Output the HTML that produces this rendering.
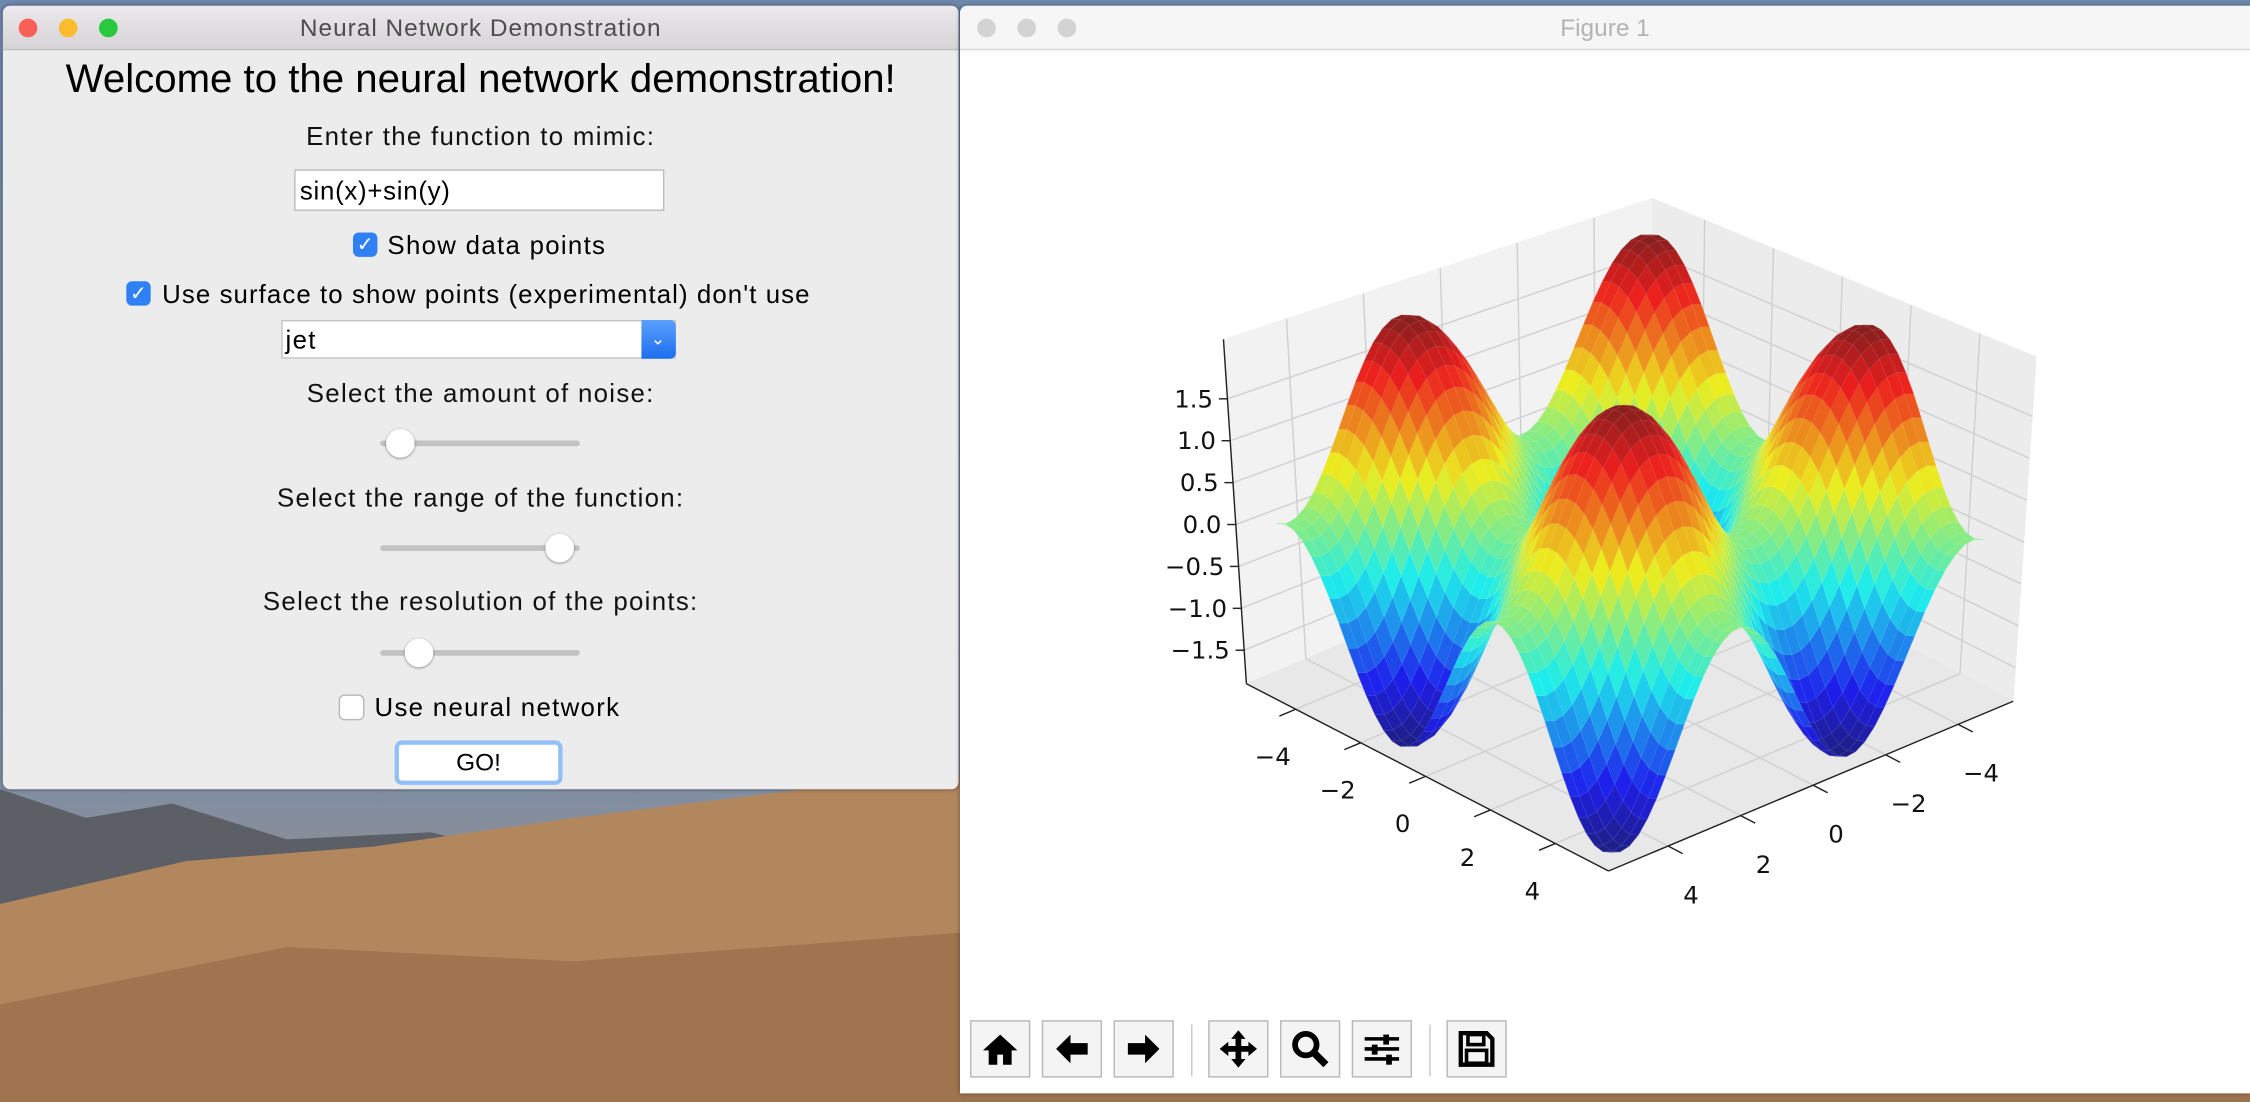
<!DOCTYPE html>
<html><head><meta charset="utf-8">
<style>
html,body{margin:0;padding:0;width:2250px;height:1102px;overflow:hidden;background:#a07a55;}
#stage{position:absolute;left:0;top:0;width:1568px;height:768px;transform:scale(1.43495,1.4349);transform-origin:0 0;font-family:"Liberation Sans","DejaVu Sans",sans-serif;}
.abs{position:absolute;}
.lbl{position:absolute;left:0;width:666px;text-align:center;font-size:18px;letter-spacing:0.9px;color:#111;}
.chk{position:absolute;width:17px;height:17px;border-radius:4px;}
.chk.on{background:#2f80f5;color:#fff;font-size:14px;line-height:17px;text-align:center;font-weight:bold;}
.chk.off{background:#fff;border:1px solid #b8b8b8;width:16px;height:16px;}
.track{position:absolute;width:139px;height:4px;border-radius:2px;background:#c2c2c2;}
.knob{position:absolute;width:20px;height:20px;border-radius:50%;background:#fff;box-shadow:0 0.5px 2px rgba(0,0,0,0.45);}
.tb{position:absolute;top:711px;width:42px;height:40px;background:#f4f4f4;border:1px solid #b9b9b9;box-sizing:border-box;}
.tb svg{position:absolute;left:5px;top:4px;}
.sep{position:absolute;top:714px;width:1px;height:36px;background:#c8c8c8;}
.txt{font-size:18px;letter-spacing:0.9px;}
</style></head><body>
<div id="stage">
  <div class="abs" style="left:0;top:0;width:1568px;height:768px;background:linear-gradient(180deg,#6e88ad 0,#7f8fa5 540px,#8a8d95 600px,#a27a55 640px,#b4865b 700px,#9c7250 768px);"></div>
  <svg class="abs" style="left:0;top:540px" width="670" height="228">
    <polygon points="0,10 60,30 120,20 200,45 300,40 420,70 560,60 670,80 670,228 0,228" fill="#5d5f66"/>
    <polygon points="0,90 130,60 260,50 400,30 560,10 670,0 670,228 0,228" fill="#b3875e"/>
    <polygon points="0,160 200,120 400,130 670,110 670,228 0,228" fill="#9f744f"/>
  </svg>

  <div class="abs" style="left:2px;top:4px;width:666px;height:546px;background:#ececec;border-radius:5px;overflow:hidden;box-shadow:0 0 3px rgba(0,0,0,0.4);">
    <div class="abs" style="left:0;top:0;width:666px;height:30px;background:linear-gradient(#ebe9eb,#d6d4d6);border-bottom:1px solid #bdbdbd;"></div>
    <div class="abs" style="left:11px;top:9px;width:13px;height:13px;border-radius:50%;background:#fc5f57;"></div>
    <div class="abs" style="left:39px;top:9px;width:13px;height:13px;border-radius:50%;background:#fdbc2e;"></div>
    <div class="abs" style="left:67px;top:9px;width:13px;height:13px;border-radius:50%;background:#28c83f;"></div>
    <div class="abs" style="left:0;top:6px;width:666px;text-align:center;font-size:17px;letter-spacing:0.7px;color:#4d4d4d;">Neural Network Demonstration</div>

    <div class="lbl" style="top:35px;font-size:28px;letter-spacing:0;color:#000;">Welcome to the neural network demonstration!</div>
    <div class="lbl" style="top:81px;">Enter the function to mimic:</div>
    <div class="abs txt" style="left:203px;top:114px;width:258px;height:29px;background:#fff;border:1px solid #bcbcbc;line-height:28px;padding-left:3px;box-sizing:border-box;letter-spacing:0.5px;">sin(x)+sin(y)</div>
    <div class="chk on" style="left:244px;top:158px;">✓</div>
    <div class="abs txt" style="left:268px;top:157px;">Show data points</div>
    <div class="chk on" style="left:86px;top:192px;">✓</div>
    <div class="abs txt" style="left:111px;top:191px;letter-spacing:0.75px;">Use surface to show points (experimental) don't use</div>
    <div class="abs txt" style="left:194px;top:219px;width:275px;height:27px;background:#fff;border:1px solid #c4c4c4;box-sizing:border-box;line-height:26px;padding-left:2px;">jet
      <div class="abs" style="right:-1px;top:-1px;width:24px;height:27px;background:linear-gradient(#5aa0fb,#1d6ef0);border-radius:0 4px 4px 0;color:#fff;font-size:12px;text-align:center;line-height:27px;">⌄</div>
    </div>
    <div class="lbl" style="top:260px;">Select the amount of noise:</div>
    <div class="track" style="left:263px;top:303px;"></div>
    <div class="knob" style="left:267px;top:295px;"></div>
    <div class="lbl" style="top:333px;">Select the range of the function:</div>
    <div class="track" style="left:263px;top:376px;"></div>
    <div class="knob" style="left:378px;top:368px;"></div>
    <div class="lbl" style="top:405px;">Select the resolution of the points:</div>
    <div class="track" style="left:263px;top:449px;"></div>
    <div class="knob" style="left:280px;top:441px;"></div>
    <div class="chk off" style="left:234px;top:480px;"></div>
    <div class="abs txt" style="left:259px;top:479px;">Use neural network</div>
    <div class="abs" style="left:273px;top:512px;width:117px;height:31px;border:3px solid #92bff7;border-radius:5px;box-sizing:border-box;background:#fff;text-align:center;font-size:17px;line-height:25px;">GO!</div>
  </div>

  <div class="abs" style="left:669px;top:4px;width:899px;height:758px;background:#fff;border-radius:5px 0 0 0;overflow:hidden;box-shadow:0 0 3px rgba(0,0,0,0.35);">
    <div class="abs" style="left:0;top:0;width:899px;height:30px;background:#f6f6f6;border-bottom:1px solid #d6d6d6;"></div>
    <div class="abs" style="left:12px;top:9px;width:13px;height:13px;border-radius:50%;background:#d3d3d3;"></div>
    <div class="abs" style="left:40px;top:9px;width:13px;height:13px;border-radius:50%;background:#d3d3d3;"></div>
    <div class="abs" style="left:68px;top:9px;width:13px;height:13px;border-radius:50%;background:#d3d3d3;"></div>
    <div class="abs" style="left:0;top:6px;width:899px;text-align:center;font-size:17px;color:#b3b3b3;">Figure 1</div>
  </div>

  <svg id="plot" class="abs" style="left:0;top:0" width="1568" height="768"></svg>

  <div class="tb" style="left:676px;"><svg width="30" height="30" viewBox="0 0 30 30"><path d="M15 5 L3 16 H7 V26 H13 V19 H17 V26 H23 V16 H27 Z" fill="#000"/></svg></div>
  <div class="tb" style="left:726px;"><svg width="30" height="30" viewBox="0 0 30 30"><path d="M4 15 L14 5 V11 H26 V19 H14 V25 Z" fill="#000"/></svg></div>
  <div class="tb" style="left:776px;"><svg width="30" height="30" viewBox="0 0 30 30"><path d="M26 15 L16 5 V11 H4 V19 H16 V25 Z" fill="#000"/></svg></div>
  <div class="sep" style="left:830px;"></div>
  <div class="tb" style="left:842px;"><svg width="30" height="30" viewBox="0 0 30 30"><path d="M15 2 L20 8 H17 V13 H22 V10 L28 15 L22 20 V17 H17 V22 H20 L15 28 L10 22 H13 V17 H8 V20 L2 15 L8 10 V13 H13 V8 H10 Z" fill="#000"/></svg></div>
  <div class="tb" style="left:892px;"><svg width="30" height="30" viewBox="0 0 30 30"><circle cx="12" cy="12" r="7.5" fill="none" stroke="#000" stroke-width="4"/><path d="M17 17 L26 26" stroke="#000" stroke-width="5"/></svg></div>
  <div class="tb" style="left:942px;"><svg width="30" height="30" viewBox="0 0 30 30"><path d="M3 8 H27 M3 15 H27 M3 22 H27" stroke="#000" stroke-width="2.5"/><rect x="16" y="5" width="4" height="7" fill="#000"/><rect x="8" y="12" width="4" height="7" fill="#000"/><rect x="18" y="19" width="4" height="7" fill="#000"/></svg></div>
  <div class="sep" style="left:996px;"></div>
  <div class="tb" style="left:1008px;"><svg width="30" height="30" viewBox="0 0 30 30"><path d="M4 4 H22 L26 8 V26 H4 Z" fill="none" stroke="#000" stroke-width="3"/><rect x="9" y="5" width="11" height="7" fill="none" stroke="#000" stroke-width="2.5"/><rect x="8" y="16" width="14" height="9" fill="none" stroke="#000" stroke-width="2.5"/></svg></div>
</div>

<script>
// ---- chart data ----
const gridValues = [-5,-4.75,-4.5,-4.25,-4,-3.75,-3.5,-3.25,-3,-2.75,-2.5,-2.25,-2,-1.75,-1.5,-1.25,-1,-0.75,-0.5,-0.25,0,0.25,0.5,0.75,1,1.25,1.5,1.75,2,2.25,2.5,2.75,3,3.25,3.5,3.75,4,4.25,4.5,4.75,5];
const xTickValues = [-4,-2,0,2,4];
const yTickValues = [-4,-2,0,2,4];
const zTickValues = [-1.5,-1.0,-0.5,0.0,0.5,1.0,1.5];
const zTickLabels = ["\u22121.5","\u22121.0","\u22120.5","0.0","0.5","1.0","1.5"];
const xTickLabels = ["\u22124","\u22122","0","2","4"];
const yTickLabels = ["\u22124","\u22122","0","2","4"];
function surfaceZ(x,y){ return Math.sin(x)+Math.sin(y); }

// ---- projection ----
const XMIN=-5.52,XMAX=5.64,YMIN=-5.52,YMAX=5.64,ZMIN=-1.90,ZMAX=2.21;
const F=[1121,607],L=[868.6,476.5],R=[1403,488.7],CX=1135;
function P(x,y,z){
  const a=(XMAX-x)/(XMAX-XMIN), b=(YMAX-y)/(YMAX-YMIN), c=(z-ZMIN)/(ZMAX-ZMIN);
  const bx=F[0]+a*(L[0]-F[0])+b*(R[0]-F[0]);
  const by=F[1]+a*(L[1]-F[1])+b*(R[1]-F[1]);
  const h=260-20*(a+b);
  return [bx+(bx-CX)*0.06*c, by-c*h];
}
const svg=document.getElementById('plot');
const NS='http://www.w3.org/2000/svg';
function poly(pts,fill,stroke,sw,name){
  const p=document.createElementNS(NS,'polygon');
  p.setAttribute('points',pts.map(q=>q[0].toFixed(1)+','+q[1].toFixed(1)).join(' '));
  p.setAttribute('fill',fill); p.setAttribute('stroke',stroke); p.setAttribute('stroke-width',sw);
  p.setAttribute('stroke-linejoin','round');
  
  
  svg.appendChild(p); return p;
}
function line(a,b,col,sw,name){
  const l=document.createElementNS(NS,'line');
  l.setAttribute('x1',a[0]);l.setAttribute('y1',a[1]);l.setAttribute('x2',b[0]);l.setAttribute('y2',b[1]);
  l.setAttribute('stroke',col);l.setAttribute('stroke-width',sw);
  
  
  svg.appendChild(l);
}
function text(pt,s,anchor,name){
  const t=document.createElementNS(NS,'text');
  t.setAttribute('x',pt[0]);t.setAttribute('y',pt[1]);t.setAttribute('text-anchor',anchor);
  t.setAttribute('dominant-baseline','central');t.setAttribute('font-size','17');
  t.setAttribute('font-family','DejaVu Sans, sans-serif');t.setAttribute('fill','#111');
  t.textContent=s;
  
  
  svg.appendChild(t);
}
poly([P(XMIN,YMIN,ZMIN),P(XMIN,YMAX,ZMIN),P(XMIN,YMAX,ZMAX),P(XMIN,YMIN,ZMAX)],'#f2f2f2','#f2f2f2',0.5,'left-back-pane');
poly([P(XMIN,YMIN,ZMIN),P(XMAX,YMIN,ZMIN),P(XMAX,YMIN,ZMAX),P(XMIN,YMIN,ZMAX)],'#ececec','#ececec',0.5,'right-back-pane');
poly([P(XMIN,YMIN,ZMIN),P(XMAX,YMIN,ZMIN),P(XMAX,YMAX,ZMIN),P(XMIN,YMAX,ZMIN)],'#e8e8e8','#e8e8e8',0.5,'floor-pane');
xTickValues.forEach(v=>{ line(P(v,YMAX,ZMIN),P(v,YMIN,ZMIN),'#d0d0d0',1,'x-gridline'); line(P(v,YMIN,ZMIN),P(v,YMIN,ZMAX),'#d0d0d0',1,'x-gridline'); });
yTickValues.forEach(v=>{ line(P(XMAX,v,ZMIN),P(XMIN,v,ZMIN),'#d0d0d0',1,'y-gridline'); line(P(XMIN,v,ZMIN),P(XMIN,v,ZMAX),'#d0d0d0',1,'y-gridline'); });
zTickValues.forEach(v=>{ line(P(XMIN,YMAX,v),P(XMIN,YMIN,v),'#d0d0d0',1,'z-gridline'); line(P(XMIN,YMIN,v),P(XMAX,YMIN,v),'#d0d0d0',1,'z-gridline'); });
line(P(XMIN,YMAX,ZMIN),P(XMAX,YMAX,ZMIN),'#222',1,'x-axis-line');
line(P(XMAX,YMIN,ZMIN),P(XMAX,YMAX,ZMIN),'#222',1,'y-axis-line');
line(P(XMIN,YMAX,ZMIN),P(XMIN,YMAX,ZMAX),'#222',1,'z-axis-line');
xTickValues.forEach((v,i)=>{ const p=P(v,YMAX,ZMIN); line(p,P(v,YMAX+0.45,ZMIN),'#222',1,'x-tick'); text([p[0]-16,p[1]+33],xTickLabels[i],'middle','x-tick-label'); });
yTickValues.forEach((v,i)=>{ const p=P(XMAX,v,ZMIN); line(p,P(XMAX+0.45,v,ZMIN),'#222',1,'y-tick'); text([p[0]+16,p[1]+34],yTickLabels[i],'middle','y-tick-label'); });
zTickValues.forEach((v,i)=>{ const p=P(XMIN,YMAX,v); line(p,[p[0]-6,p[1]],'#222',1,'z-tick'); text([p[0]-10,p[1]],zTickLabels[i],'end','z-tick-label'); });
function jetRGB(t){ t=Math.max(0,Math.min(1,t));
  const c=v=>Math.max(0,Math.min(1,v));
  return [c(1.5-Math.abs(4*t-3)),c(1.5-Math.abs(4*t-2)),c(1.5-Math.abs(4*t-1))]; }
function rgb(c,w){ return 'rgb('+c.map(v=>Math.round(255*(v*(1-w)+w))).join(',')+')'; }
const quads=[];
for(let i=0;i<gridValues.length-1;i++)for(let j=0;j<gridValues.length-1;j++){
  const x0=gridValues[i],x1=gridValues[i+1],y0=gridValues[j],y1=gridValues[j+1];
  const zs=[surfaceZ(x0,y0),surfaceZ(x1,y0),surfaceZ(x1,y1),surfaceZ(x0,y1)];
  const zm=(zs[0]+zs[1]+zs[2]+zs[3])/4;
  const depth=(x0+x1+y0+y1)/4*0.87/11.2+zm*0.5/4.1;
  quads.push({pts:[P(x0,y0,zs[0]),P(x1,y0,zs[1]),P(x1,y1,zs[2]),P(x0,y1,zs[3])],zm,depth});
}
quads.sort((a,b)=>a.depth-b.depth);
quads.forEach(q=>{ const c=jetRGB((q.zm+2)/4).map(v=>v*0.88+0.04); poly(q.pts,rgb(c,0.08),rgb(c,0.22),0.4,'surface-patch'); });
</script>
</body></html>
